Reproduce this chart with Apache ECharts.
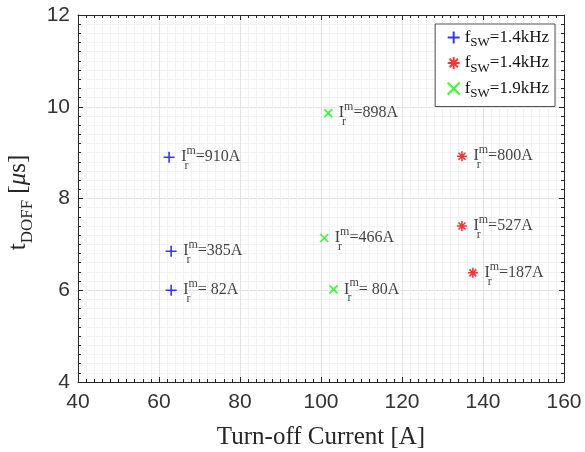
<!DOCTYPE html>
<html>
<head>
<meta charset="utf-8">
<script src="https://cdn.jsdelivr.net/npm/echarts@6/dist/echarts.min.js"></script>
<style>
  html, body { margin: 0; padding: 0; background: #fff; }
  #chart { width: 585px; height: 452px; }
</style>
</head>
<body>
<div id="chart"></div>
<script>
// turn-off current [A], t_DOFF [us], peak current labels
const blueX = [62.5, 63, 63]
const blueY = [8.9, 6.85, 6.0]
const blueLbl = ['=910A', '=385A', '= 82A']

const redX = [134.8, 134.8, 137.5]
const redY = [8.92, 7.4, 6.38]
const redLbl = ['=800A', '=527A', '=187A']

const greenX = [101.8, 100.8, 103.1]
const greenY = [9.86, 7.14, 6.02]
const greenLbl = ['=898A', '=466A', '= 80A']

const legendNames = ['1.4kHz', '1.4kHz', '1.9kHz']
const xTicks = [40, 160, 20]
const yTicks = [4, 12, 2]

const serif = 'Liberation Serif'
const sans = 'Liberation Sans'

const PLUS = 'path://M0,5L10,5M5,0L5,10'
const STAR = 'path://M0,5L10,5M5,0L5,10M1.5,1.5L8.5,8.5M1.5,8.5L8.5,1.5'
const CROSS = 'path://M0,0L10,10M0,10L10,0'

const labelRich = {
  i: { fontFamily: serif, fontSize: 16, color: '#111', lineHeight: 30, verticalAlign: 'middle' },
  ghost: { fontFamily: serif, fontSize: 16, color: 'transparent', lineHeight: 30, verticalAlign: 'middle' },
  sup: { fontFamily: serif, fontSize: 12, color: '#111', verticalAlign: 'top', padding: [3, 0, 0, 0] },
  sub: { fontFamily: serif, fontSize: 12, color: '#111', verticalAlign: 'bottom' }
}

const pts = (xs, ys, ls) => xs.map((x, i) => ({ value: [x, ys[i]], lbl: ls[i] }))

const mainSeries = (name, xs, ys, ls, symbol, color, size) => ({
  name,
  type: 'scatter',
  symbol,
  symbolSize: size,
  itemStyle: { color: 'none', borderColor: color, borderWidth: 1.6 },
  label: {
    show: true,
    position: 'right',
    distance: 4,
    formatter: p => '{i|I}{sup|m}{i|' + p.data.lbl + '}',
    rich: labelRich
  },
  data: pts(xs, ys, ls),
  z: 3
})

// second pass only to put the subscript r under the superscript m
const subSeries = (xs, ys, ls, size) => ({
  type: 'scatter',
  symbolSize: size,
  itemStyle: { color: 'transparent', borderColor: 'transparent' },
  label: {
    show: true,
    position: 'right',
    distance: 4,
    formatter: '{ghost|I}{sub|r}',
    rich: labelRich
  },
  data: pts(xs, ys, ls),
  silent: true,
  z: 2
})

const axisBase = {
  axisLine: { show: true, onZero: false, lineStyle: { color: '#262626', width: 1 } },
  axisTick: { show: true, inside: true, length: 5, lineStyle: { color: '#262626' } },
  minorTick: { show: true, splitNumber: 10, length: 3, lineStyle: { color: '#262626' } }
}

const chart = echarts.init(document.getElementById('chart'))
const option = {
  backgroundColor: '#fff',
  animation: false,
  grid: { left: 78, right: 21, top: 15, bottom: 70, containLabel: false, outerBoundsMode: 'none' },
  legend: {
    data: ['s1', 's2', 's3'],
    orient: 'vertical',
    right: 30,
    top: 24,
    itemWidth: 12,
    itemHeight: 12,
    itemGap: 5,
    padding: [5, 6, 6, 10],
    backgroundColor: '#fff',
    borderColor: '#262626',
    borderWidth: 0.8,
    borderRadius: 0,
    formatter: name => '{f|f}{s|SW}{f|=' + legendNames[+name.slice(1) - 1] + '}',
    textStyle: {
      rich: {
        f: { fontFamily: serif, fontSize: 17, color: '#111', lineHeight: 24, verticalAlign: 'middle' },
        s: { fontFamily: serif, fontSize: 13, color: '#111', verticalAlign: 'bottom' }
      }
    }
  },
  xAxis: [
    {
      type: 'value', min: xTicks[0], max: xTicks[1], interval: xTicks[2],
      ...axisBase,
      axisLabel: { fontFamily: sans, fontSize: 21, color: '#333', margin: 10 },
      splitLine: { show: true, lineStyle: { color: '#e3e3e3' } },
      minorSplitLine: { show: true, lineStyle: { color: '#f2f2f2' } },
      name: 'Turn-off Current [A]',
      nameLocation: 'middle',
      nameGap: 43,
      nameTextStyle: { fontFamily: serif, fontSize: 25, color: '#262626' }
    },
    {
      type: 'value', position: 'top', min: xTicks[0], max: xTicks[1], interval: xTicks[2],
      ...axisBase,
      axisLabel: { show: false },
      splitLine: { show: false }
    }
  ],
  yAxis: [
    {
      type: 'value', min: yTicks[0], max: yTicks[1], interval: yTicks[2],
      ...axisBase,
      axisLabel: { fontFamily: sans, fontSize: 21, color: '#333', margin: 8 },
      splitLine: { show: true, lineStyle: { color: '#e3e3e3' } },
      minorSplitLine: { show: true, lineStyle: { color: '#f2f2f2' } },
      name: '{t|t}{s|DOFF}{t| [}{mu|μ}{end|s]}',
      nameLocation: 'middle',
      nameGap: 42,
      nameTextStyle: {
        rich: {
          t: { fontFamily: serif, fontSize: 25, color: '#262626', lineHeight: 34, verticalAlign: 'middle' },
          end: { fontFamily: serif, fontSize: 25, color: '#262626', lineHeight: 34, verticalAlign: 'middle', padding: [0, 8, 0, 0] },
          mu: { fontFamily: serif, fontSize: 25, fontStyle: 'italic', color: '#262626', lineHeight: 34, verticalAlign: 'middle' },
          s: { fontFamily: serif, fontSize: 17, color: '#262626', verticalAlign: 'bottom' }
        }
      }
    },
    {
      type: 'value', position: 'right', min: yTicks[0], max: yTicks[1], interval: yTicks[2],
      ...axisBase,
      axisLabel: { show: false },
      splitLine: { show: false }
    }
  ],
  series: [
    mainSeries('s1', blueX, blueY, blueLbl, PLUS, '#0000ff', 11),
    mainSeries('s2', redX, redY, redLbl, STAR, '#ff0000', 10),
    mainSeries('s3', greenX, greenY, greenLbl, CROSS, '#00ff00', 8),
    subSeries(blueX, blueY, blueLbl, 11),
    subSeries(redX, redY, redLbl, 10),
    subSeries(greenX, greenY, greenLbl, 8)
  ]
}
chart.setOption(option)
window.addEventListener('resize', () => chart.resize())
</script>
</body>
</html>
